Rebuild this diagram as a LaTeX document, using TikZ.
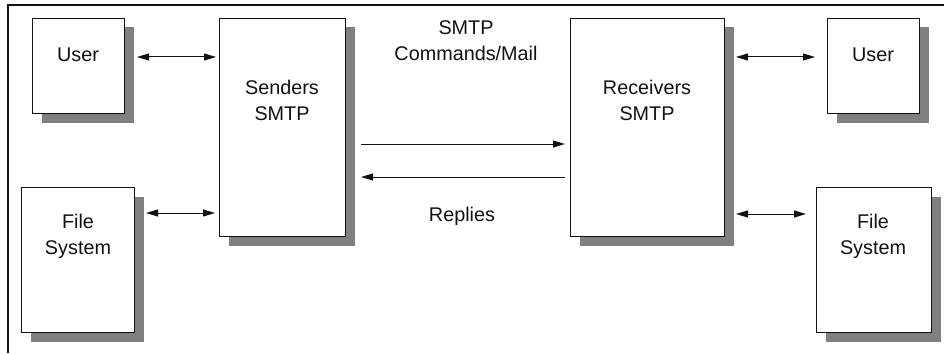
\documentclass[tikz,border=0pt]{standalone}
\usepackage{fontspec}
\setmainfont{Liberation Sans}
\usepackage{xcolor}
\usepackage{tikz}
\usetikzlibrary{arrows.meta, shadows}
\definecolor{ShadowGray}{HTML}{808080}
\definecolor{InkBlack}{HTML}{111111}

\begin{document}
\begin{tikzpicture}[x=1pt, y=-1pt,
  blk/.style={draw=InkBlack, fill=white, line width=1pt, inner sep=0pt, anchor=north west,
    drop shadow={shadow xshift=9pt, shadow yshift=-9pt, fill=ShadowGray, opacity=1}},
  txt/.style={font=\fontsize{19.8}{25.5}\selectfont, text=InkBlack, align=center, inner sep=0pt, anchor=base},
  link/.style={line width=1pt, InkBlack, -{Triangle[length=12pt, width=7pt]}},
  both/.style={link, {Triangle[length=12pt, width=7pt]}-{Triangle[length=12pt, width=7pt]}}
]
\useasboundingbox (0,0) rectangle (944,353);
\draw[line width=1.3pt, InkBlack] (8,353) -- (8,5) -- (944,5);
\node[blk, minimum width=92pt, minimum height=95pt]   (userL) at (32,18)  {};
\node[blk, minimum width=126pt, minimum height=218pt] (sendL) at (219,18) {};
\node[blk, minimum width=113pt, minimum height=145pt] (fsL)   at (21,187) {};
\node[blk, minimum width=154pt, minimum height=218pt] (recvR) at (570,18) {};
\node[blk, minimum width=92pt, minimum height=95pt]   (userR) at (827,18) {};
\node[blk, minimum width=115pt, minimum height=145pt] (fsR)   at (816,187) {};
\node[txt] (userLtxt) at (78,61)    {User};
\node[txt] (sendLtxt) at (282,120)  {Senders\\SMTP};
\node[txt] (fsLtxt)   at (78,254)   {File\\System};
\node[txt] (recvRtxt) at (647,120)  {Receivers\\SMTP};
\node[txt] (userRtxt) at (873,61)   {User};
\node[txt] (fsRtxt)   at (873,254)  {File\\System};
\node[txt] (cmdtxt)   at (466,60)   {SMTP\\Commands/Mail};
\node[txt] (replytxt) at (462,221)  {Replies};
\draw[both, shorten <=12pt, shorten >=3pt]  (userL.east |- 0,57)  -- (sendL.west |- 0,57);
\draw[both, shorten <=11pt, shorten >=4pt]  (fsL.east |- 0,213)   -- (sendL.west |- 0,213);
\draw[link, shorten <=15pt, shorten >=5pt]  (sendL.east |- 0,144) -- (recvR.west |- 0,144);
\draw[link, shorten <=5pt, shorten >=15pt]  (recvR.west |- 0,177) -- (sendL.east |- 0,177);
\draw[both, shorten <=11pt, shorten >=12pt] (recvR.east |- 0,57)  -- (userR.west |- 0,57);
\draw[both, shorten <=11pt, shorten >=10pt] (recvR.east |- 0,214) -- (fsR.west |- 0,214);
\end{tikzpicture}
\end{document}
